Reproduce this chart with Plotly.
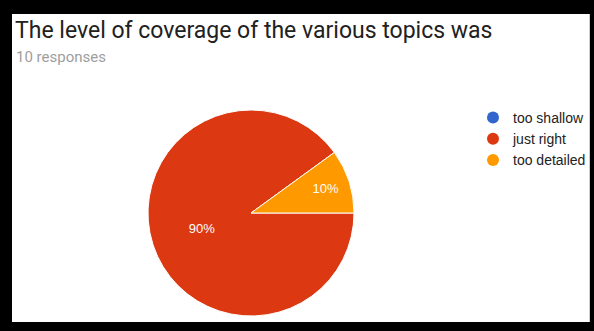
import plotly.graph_objects as go

categories = ["too shallow", "just right", "too detailed"]
counts = [0, 9, 1]
colors = ["#3366cc", "#dc3912", "#ff9900"]
title_text = "The level of coverage of the various topics was"
subtitle_text = "10 responses"

W, H = 594, 331

def px_x(v):
    return v / W

def px_y(v):
    return 1 - v / H

fig = go.Figure()

fig.add_trace(go.Pie(
    labels=categories,
    values=counts,
    marker=dict(colors=colors, line=dict(color="white", width=1)),
    sort=False,
    direction="clockwise",
    rotation=90,
    textinfo="percent",
    texttemplate="%{percent:.0%}",
    textposition="inside",
    insidetextorientation="horizontal",
    textfont=dict(family="Arial, Liberation Sans", size=13, color="white"),
    showlegend=False,
    hoverinfo="label+percent",
    domain=dict(x=[px_x(148), px_x(354)], y=[px_y(316), px_y(110)]),
))

for name, col in zip(categories, colors):
    fig.add_trace(go.Scatter(
        x=[None], y=[None], mode="markers", name=name,
        marker=dict(symbol="circle", size=13, color=col),
        showlegend=True,
    ))

fig.update_layout(
    width=W, height=H,
    margin=dict(l=0, r=0, t=0, b=0),
    paper_bgcolor="white",
    plot_bgcolor="rgba(0,0,0,0)",
    xaxis=dict(visible=False, domain=[0.9, 0.91]),
    yaxis=dict(visible=False, domain=[0.9, 0.91]),
    showlegend=True,
    legend=dict(
        x=px_x(473), y=px_y(102), xanchor="left", yanchor="top",
        font=dict(family="Arial, Liberation Sans", size=14, color="#222222"),
        bgcolor="rgba(0,0,0,0)",
        itemsizing="constant",
        itemwidth=30,
    ),
    shapes=[
        dict(type="rect", xref="paper", yref="paper", x0=0, x1=1, y0=0, y1=1,
             fillcolor="black", line=dict(width=0), layer="below"),
        dict(type="rect", xref="paper", yref="paper",
             x0=px_x(12), x1=px_x(589), y0=px_y(322), y1=px_y(14),
             fillcolor="white", line=dict(width=0), layer="below"),
        dict(type="line", xref="paper", yref="paper",
             x0=px_x(589.5), x1=px_x(589.5), y0=px_y(322), y1=px_y(14),
             line=dict(color="#cccccc", width=1), layer="below"),
    ],
    annotations=[
        dict(text=title_text, xref="paper", yref="paper", x=px_x(13), y=px_y(30),
             xanchor="left", yanchor="middle", showarrow=False,
             font=dict(family="Roboto", size=23, color="#212121")),
        dict(text=subtitle_text, xref="paper", yref="paper", x=px_x(14), y=px_y(57),
             xanchor="left", yanchor="middle", showarrow=False,
             font=dict(family="Roboto", size=15, color="#9e9e9e")),
    ],
)

fig.write_html(
    "out.html",
    config={"displayModeBar": False},
    post_script="document.body.style.margin='0';document.body.style.padding='0';document.body.style.overflow='hidden';",
)
